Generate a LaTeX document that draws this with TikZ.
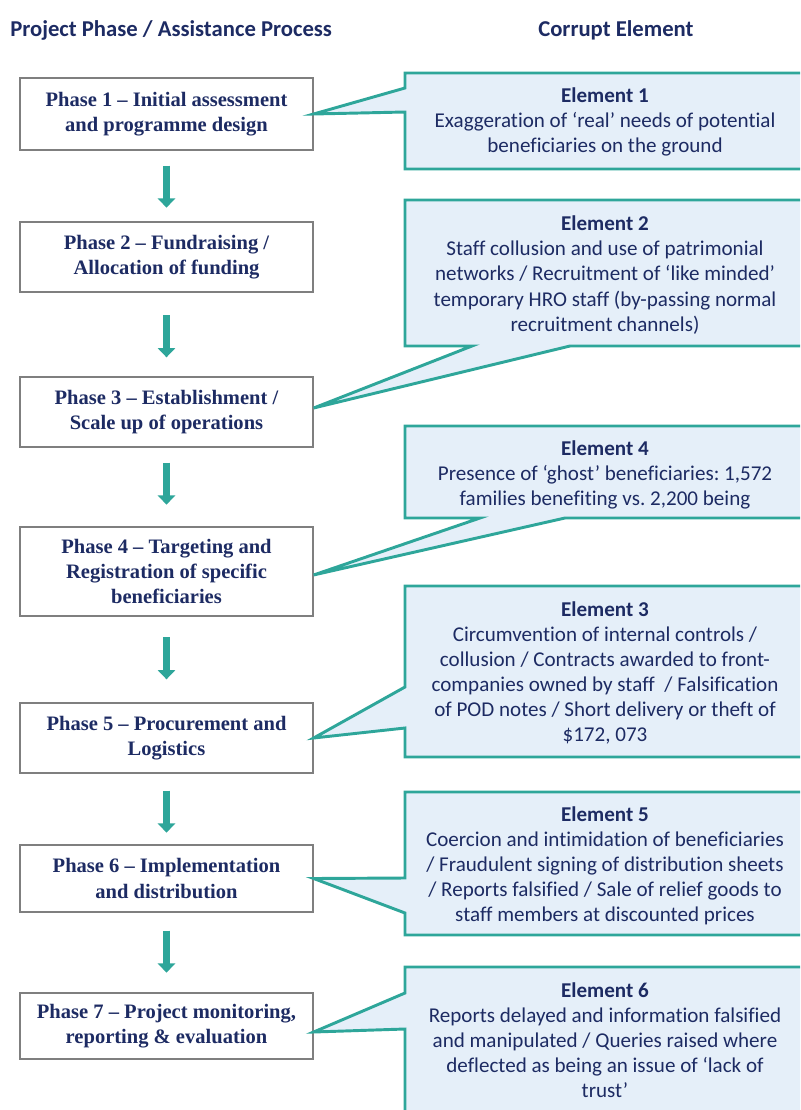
\documentclass[tikz,border=0pt]{standalone}
\usepackage{fontspec}
\setmainfont{Liberation Serif}
\newfontfamily\calib[Ligatures={NoCommon}]{Carlito}
\usetikzlibrary{arrows.meta}
\definecolor{tealc}{HTML}{2EA69A}
\definecolor{navy}{HTML}{1D2B63}
\definecolor{cfill}{HTML}{E5EFF9}
\definecolor{boxline}{HTML}{7F7F7F}
\frenchspacing
\begin{document}
\begin{tikzpicture}[x=0.75pt,y=-0.75pt,
  phasebox/.style={draw=boxline,line width=1pt,fill=white,minimum width=219.75pt,
    inner sep=0pt,align=center,text=navy,font=\bfseries\fontsize{15.4}{18.8}\selectfont},
  calloutshape/.style={draw=tealc,fill=cfill,line width=2.2pt,line join=miter},
  callouttext/.style={inner sep=0pt,align=center,text=navy,font=\calib\fontsize{15.8}{18.8}\selectfont},
  header/.style={inner sep=0pt,anchor=west,text=navy,font=\calib\bfseries\fontsize{17}{20}\selectfont},
  flowarrow/.style={draw=tealc,line width=5.5pt,-{Triangle[width=13pt,length=7pt]}}]
\useasboundingbox (0,0) rectangle (800,1110);
\clip (0,0) rectangle (800,1110);

\node[header] (h1) at (10,30) {Project Phase / Assistance Process};
\node[header] (h2) at (538,30) {Corrupt Element};

\node[phasebox,minimum height=54pt] (p1) at (166.5,114) {Phase 1 – Initial assessment\\and programme design};
\node[phasebox,minimum height=52.5pt] (p2) at (166.5,257) {Phase 2 – Fundraising /\\Allocation of funding};
\node[phasebox,minimum height=52.5pt] (p3) at (166.5,412) {Phase 3 – Establishment /\\Scale up of operations};
\node[phasebox,minimum height=66.75pt] (p4) at (166.5,571.5) {Phase 4 – Targeting and\\Registration of specific\\beneficiaries};
\node[phasebox,minimum height=52.5pt] (p5) at (166.5,738) {Phase 5 – Procurement and\\Logistics};
\node[phasebox,minimum height=50.25pt] (p6) at (166.5,878.5) {Phase 6 – Implementation\\and distribution};
\node[phasebox,minimum height=49.5pt] (p7) at (166.5,1026) {Phase 7 – Project monitoring,\\reporting \& evaluation};

\draw[flowarrow] ([yshift=-11.25pt]p1.south) -- ++(0,42);
\draw[flowarrow] ([yshift=-17pt]p2.south) -- ++(0,42);
\draw[flowarrow] ([yshift=-11.25pt]p3.south) -- ++(0,42);
\draw[flowarrow] ([yshift=-15.5pt]p4.south) -- ++(0,42);
\draw[flowarrow] ([yshift=-12.75pt]p5.south) -- ++(0,42);
\draw[flowarrow] ([yshift=-13.5pt]p6.south) -- ++(0,42);

\draw[calloutshape] (405,73) -- (815,73) -- (815,169) -- (405,169) -- (405,112) -- (p1.east) -- (405,88) -- cycle;
\draw[calloutshape] (405,200) -- (815,200) -- (815,346) -- (570,346) -- ([yshift=3pt]p3.east) -- (472,346) -- (405,346) -- cycle;
\draw[calloutshape] (405,426) -- (815,426) -- (815,518) -- (565,518) -- ([yshift=-2.6pt]p4.east) -- (480,518) -- (405,518) -- cycle;
\draw[calloutshape] (405,586) -- (815,586) -- (815,757) -- (405,757) -- (405,728) -- (p5.east) -- (405,687) -- cycle;
\draw[calloutshape] (405,792) -- (815,792) -- (815,935) -- (405,935) -- (405,913) -- (p6.east) -- (405,878) -- cycle;
\draw[calloutshape] (405,967) -- (815,967) -- (815,1130) -- (405,1130) -- (405,1029) -- ([yshift=-4.5pt]p7.east) -- (405,993) -- cycle;

\node[callouttext] (e1) at (605,121.5) {\textbf{Element 1}\\Exaggeration of ‘real’ needs of potential\\beneficiaries on the ground};
\node[callouttext] (e2) at (605,275) {\textbf{Element 2}\\Staff collusion and use of patrimonial\\networks / Recruitment of ‘like minded’\\temporary HRO staff (by-passing normal\\recruitment channels)};
\node[callouttext] (e4) at (605,475) {\textbf{Element 4}\\Presence of ‘ghost’ beneficiaries: 1,572\\families benefiting vs. 2,200 being};
\node[callouttext] (e3) at (605,673) {\textbf{Element 3}\\Circumvention of internal controls /\\collusion / Contracts awarded to front-\\companies owned by staff~ / Falsification\\of POD notes / Short delivery or theft of\\\$172, 073};
\node[callouttext] (e5) at (605,865.5) {\textbf{Element 5}\\Coercion and intimidation of beneficiaries\\/ Fraudulent signing of distribution sheets\\/ Reports falsified / Sale of relief goods to\\staff members at discounted prices};
\node[callouttext] (e6) at (605,1040) {\textbf{Element 6}\\Reports delayed and information falsified\\and manipulated / Queries raised where\\deflected as being an issue of ‘lack of\\trust’};
\end{tikzpicture}
\end{document}
